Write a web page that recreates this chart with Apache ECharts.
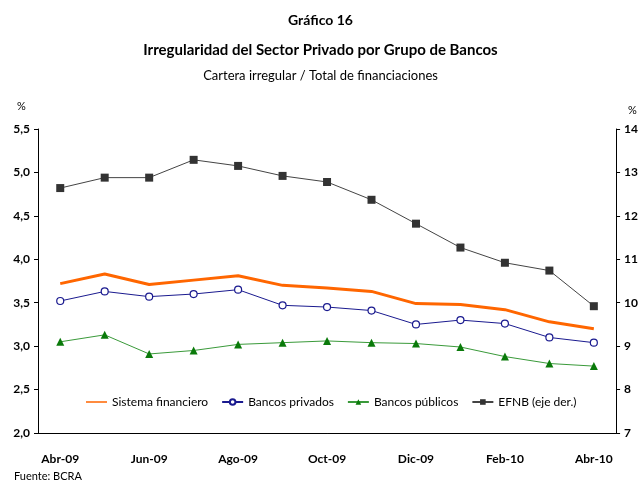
<!DOCTYPE html>
<html>
<head>
<meta charset="utf-8">
<script src="https://cdn.jsdelivr.net/npm/echarts@6/dist/echarts.min.js"></script>
<style>
  html, body { margin: 0; padding: 0; background: #fff; }
  #chart { width: 641px; height: 480px; }
</style>
</head>
<body>
<div id="chart"></div>
<script>
// datos
var meses = ['Abr-09','May-09','Jun-09','Jul-09','Ago-09','Sep-09','Oct-09','Nov-09','Dic-09','Ene-10','Feb-10','Mar-10','Abr-10'];
var sistemaFinanciero = [3.72, 3.83, 3.71, 3.76, 3.81, 3.70, 3.67, 3.63, 3.49, 3.48, 3.42, 3.28, 3.20];
var bancosPrivados = [3.52, 3.63, 3.57, 3.60, 3.65, 3.47, 3.45, 3.41, 3.25, 3.30, 3.26, 3.10, 3.04];
var bancosPublicos = [3.05, 3.13, 2.91, 2.95, 3.02, 3.04, 3.06, 3.04, 3.03, 2.99, 2.88, 2.80, 2.77];
var efnb = [12.64, 12.88, 12.88, 13.29, 13.15, 12.92, 12.78, 12.37, 11.82, 11.27, 10.92, 10.74, 9.92];

var fuente = 'Lato, "Open Sans", sans-serif';
// icono de linea sola para la leyenda (con puntos minimos arriba y abajo para el tamaño)
var iconoLinea = 'path://M0,0L0.01,0L0.01,0.01Z M0,2.8H22V4.2H0Z M0,7L0.01,7L0.01,6.99Z';

var myChart = echarts.init(document.getElementById('chart'));

var option = {
    backgroundColor: '#fff',
    textStyle: { fontFamily: fuente, color: '#000' },
    title: [
        { text: 'Gráfico 16', left: 'center', top: 8,
          textStyle: { fontFamily: fuente, fontSize: 14, fontWeight: 'bold', color: '#000' } },
        { text: 'Irregularidad del Sector Privado por Grupo de Bancos', left: 'center', top: 38,
          textStyle: { fontFamily: fuente, fontSize: 15, fontWeight: 'bold', color: '#000' } },
        { text: 'Cartera irregular / Total de financiaciones', left: 'center', top: 64,
          textStyle: { fontFamily: fuente, fontSize: 13, fontWeight: 'normal', color: '#000' } },
        { text: '%', left: 12, top: 96,
          textStyle: { fontFamily: fuente, fontSize: 11, fontWeight: 'normal', color: '#000' } },
        { text: '%', left: 623, top: 100,
          textStyle: { fontFamily: fuente, fontSize: 11, fontWeight: 'normal', color: '#000' } },
        { text: 'Fuente: BCRA', left: 9, top: 466,
          textStyle: { fontFamily: fuente, fontSize: 11, fontWeight: 'normal', color: '#000' } }
    ],
    legend: {
        left: 81,
        top: 391,
        itemWidth: 21,
        itemHeight: 7,
        itemGap: 13,
        textStyle: { fontFamily: fuente, fontSize: 12, color: '#000' },
        data: [
            { name: 'Sistema financiero', icon: iconoLinea, itemStyle: { color: '#ff6600' } },
            'Bancos privados',
            'Bancos públicos',
            'EFNB (eje der.)'
        ]
    },
    grid: { left: 38, right: 24, top: 129, bottom: 47, containLabel: false },
    xAxis: {
        type: 'category',
        data: meses,
        boundaryGap: true,
        axisLine: { lineStyle: { color: '#000', width: 1 } },
        axisTick: { interval: 1, length: 4, inside: true, lineStyle: { color: '#000' } },
        axisLabel: { interval: 1, margin: 20, fontFamily: fuente, fontSize: 12, fontWeight: 'bold', color: '#000' }
    },
    yAxis: [
        {
            type: 'value', min: 2, max: 5.5, interval: 0.5,
            splitLine: { show: false },
            axisLine: { show: true, lineStyle: { color: '#000' } },
            axisTick: { show: true, length: 4, lineStyle: { color: '#000' } },
            axisLabel: { margin: 8, fontFamily: fuente, fontSize: 12, fontWeight: 'bold', color: '#000',
                formatter: function (v) { return v.toFixed(1).replace('.', ','); } }
        },
        {
            type: 'value', min: 7, max: 14, interval: 1,
            splitLine: { show: false },
            axisLine: { show: true, lineStyle: { color: '#000' } },
            axisTick: { show: true, length: 4, lineStyle: { color: '#000' } },
            axisLabel: { margin: 8, fontFamily: fuente, fontSize: 12, fontWeight: 'bold', color: '#000' }
        }
    ],
    series: [
        {
            name: 'Sistema financiero', type: 'line', data: sistemaFinanciero,
            showSymbol: false, symbol: 'none',
            lineStyle: { color: '#ff6600', width: 3 },
            itemStyle: { color: '#ff6600' }
        },
        {
            name: 'Bancos privados', type: 'line', data: bancosPrivados,
            symbol: 'circle', symbolSize: 7,
            lineStyle: { color: '#1a1a8f', width: 1 },
            itemStyle: { color: '#fff', borderColor: '#1a1a8f', borderWidth: 1.2 }
        },
        {
            name: 'Bancos públicos', type: 'line', data: bancosPublicos,
            symbol: 'triangle', symbolSize: 8,
            lineStyle: { color: '#3a9a3a', width: 1 },
            itemStyle: { color: '#0a7a0a' }
        },
        {
            name: 'EFNB (eje der.)', type: 'line', data: efnb, yAxisIndex: 1,
            symbol: 'rect', symbolSize: 8,
            lineStyle: { color: '#444', width: 1 },
            itemStyle: { color: '#333' }
        }
    ]
};

myChart.setOption(option);
</script>
</body>
</html>
